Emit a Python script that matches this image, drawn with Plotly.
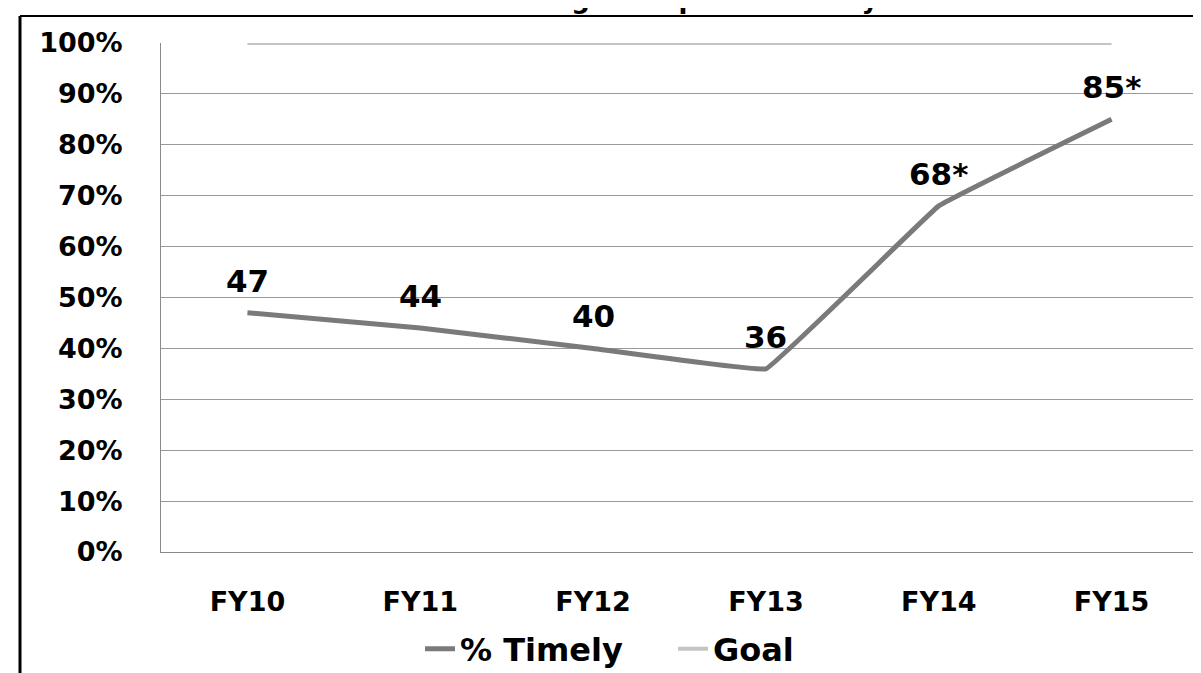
import plotly.graph_objects as go

categories = ["FY10", "FY11", "FY12", "FY13", "FY14", "FY15"]
timely = [47, 44, 40, 36, 68, 85]
timely_labels = ["47", "44", "40", "36", "68*", "85*"]
goal = [100, 100, 100, 100, 100, 100]
y_ticks = [0, 10, 20, 30, 40, 50, 60, 70, 80, 90, 100]
y_tick_labels = ["0%", "10%", "20%", "30%", "40%", "50%", "60%", "70%", "80%", "90%", "100%"]
title_text = "Findings Completed Timely"

FONT = "Verdana, DejaVu Sans, sans-serif"
PW, PH = 1037, 509  # plot area size in px

fig = go.Figure()
fig.add_trace(go.Scatter(
    x=categories, y=timely, name="% Timely", mode="lines",
    line=dict(color="#7a7a7a", width=5, shape="spline", smoothing=0.15),
))
fig.add_trace(go.Scatter(
    x=categories, y=goal, name="Goal", mode="lines",
    line=dict(color="#c4c4c4", width=4),
))

for c, v, t in zip(categories, timely, timely_labels):
    fig.add_annotation(x=c, y=v, text=t, showarrow=False, yshift=32,
                       font=dict(family=FONT, size=31, color="black", weight="bold"))

fig.add_annotation(xref="paper", yref="paper", x=0.5, y=1 + 27 / PH,
                   yanchor="bottom", text=title_text, showarrow=False,
                   font=dict(family=FONT, size=26, color="black", weight="bold"))

# outer frame (left and top edges visible in the reference)
fig.add_shape(type="line", xref="paper", yref="paper",
              x0=-141 / PW, x1=-141 / PW, y0=1 + 27 / PH, y1=-129 / PH,
              line=dict(color="black", width=3))
fig.add_shape(type="line", xref="paper", yref="paper",
              x0=-141 / PW, x1=1 + 20 / PW, y0=1 + 27 / PH, y1=1 + 27 / PH,
              line=dict(color="black", width=2))

fig.update_layout(
    width=1201, height=673,
    margin=dict(l=153, r=11, t=35, b=129, autoexpand=False),
    paper_bgcolor="white", plot_bgcolor="white",
    showlegend=True,
    legend=dict(orientation="h", x=(412 - 153) / PW, xanchor="left", y=-97 / PH,
                yanchor="middle",
                font=dict(family=FONT, size=32, color="black", weight="bold"),
                itemwidth=30, entrywidth=208, entrywidthmode="pixels",
                traceorder="normal"),
    font=dict(family=FONT, color="black"),
)
fig.update_xaxes(
    type="category", range=[-0.5, 5.5], showgrid=False, showline=True,
    linecolor="#8a8a8a", linewidth=1, automargin=False,
    tickfont=dict(family=FONT, size=27, color="black", weight="bold"),
    ticks="", ticklabelstandoff=26, fixedrange=True,
)
fig.update_yaxes(
    range=[0, 100], tickvals=y_ticks, ticktext=y_tick_labels, showgrid=True,
    gridcolor="#9a9a9a", gridwidth=1, showline=True, linecolor="#8a8a8a", linewidth=1,
    automargin=False,
    tickfont=dict(family=FONT, size=27, color="black", weight="bold"),
    ticks="", ticklabelstandoff=32, zeroline=False, fixedrange=True,
)

fig.write_html("out.html")
